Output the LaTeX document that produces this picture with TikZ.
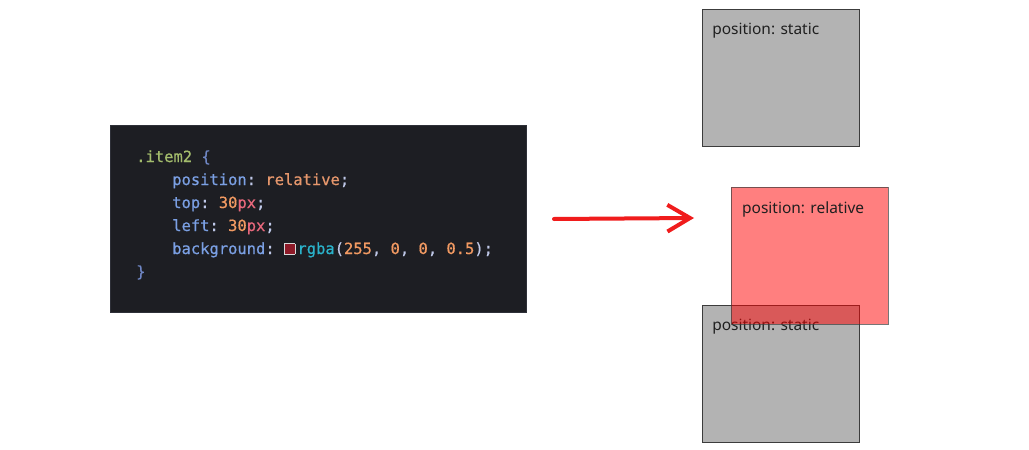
\documentclass[tikz,border=0pt]{standalone}
\usepackage{fontspec}
\setmainfont{Noto Sans}
\setmonofont[FakeBold=0.6]{DejaVu Sans Mono}
\usetikzlibrary{arrows.meta,positioning}

\definecolor{paneldark}{HTML}{1D1E23}
\definecolor{panelrim}{HTML}{2E3038}
\definecolor{codelight}{HTML}{BFC8E8}
\definecolor{selgreen}{HTML}{A3BC6C}
\definecolor{bracegray}{HTML}{6F86C4}
\definecolor{propblue}{HTML}{7BA0E4}
\definecolor{valorange}{HTML}{E6976C}
\definecolor{numorange}{HTML}{F29A62}
\definecolor{unitpink}{HTML}{E8687C}
\definecolor{fncyan}{HTML}{2AB3CB}
\definecolor{swatchred}{HTML}{8E1A28}
\definecolor{boxgray}{HTML}{B3B3B3}
\definecolor{boxrim}{HTML}{3C3C3C}
\definecolor{arrowred}{HTML}{F01C1C}

\tikzset{
  codepanel/.style={fill=paneldark, draw=panelrim, line width=0.6pt, minimum width=312pt,
    minimum height=140.25pt, inner sep=0pt, anchor=north west},
  codeline/.style={font=\ttfamily\fontsize{11.6}{13}\selectfont, text=codelight,
    anchor=base west, inner sep=0pt},
  staticbox/.style={fill=boxgray, draw=boxrim, line width=0.6pt, minimum width=117.75pt,
    minimum height=102.75pt, inner sep=0pt, anchor=north west},
  relbox/.style={staticbox, fill=red, fill opacity=0.5, draw opacity=0.7},
  boxlabel/.style={font=\fontsize{11.6}{13}\selectfont, text=black!88, anchor=north west, inner sep=0pt},
  redarrow/.style={draw=arrowred, line width=3pt, line cap=round, line join=round,
    -{Straight Barb[length=17pt,width=20pt]}}
}

\newcommand{\prop}[1]{\textcolor{propblue}{#1}}
\newcommand{\px}[1]{\textcolor{numorange}{#1}\textcolor{unitpink}{px}}
\newcommand{\swatch}{{\fboxsep=0pt\fboxrule=0.7pt\fcolorbox{white!85!black}{swatchred}{\rule{0pt}{7.2pt}\hspace{7.2pt}}}\hspace{1.5pt}}

\begin{document}
\begin{tikzpicture}[x=0.75pt,y=-0.75pt]
\useasboundingbox[fill=white] (0,0) rectangle (1029,450);

% code snippet
\node[codepanel] (panel) at (110,125) {};
\node[codeline] (sel) at (136,162) {\textcolor{selgreen}{.item2} \textcolor{bracegray}{\{}};
\node[codeline] (pos) at (172,185) {\prop{position}: \textcolor{valorange}{relative};};
\node[codeline] (top) at (172,208) {\prop{top}: \px{30};};
\node[codeline] (left) at (172,231) {\prop{left}: \px{30};};
\node[codeline] (bg) at (172,254) {\prop{background}: \swatch\textcolor{fncyan}{rgba}(\textcolor{numorange}{255}, \textcolor{numorange}{0}, \textcolor{numorange}{0}, \textcolor{numorange}{0.5});};
\node[codeline] (close) at (136,277) {\textcolor{bracegray}{\}}};

% hand drawn arrow
\coordinate (arrowtail) at (554,219);
\coordinate (arrowtip) at (694,218);
\draw[redarrow] (arrowtail) -- (arrowtip);

% boxes
\node[staticbox] (statictop) at (702,9) {};
\node[boxlabel] (statictoplabel) at ([shift={(7.5pt,-10.5pt)}]statictop.north west) {position: static};

\node[staticbox] (staticbottom) at (702,305) {};
\node[boxlabel] (staticbottomlabel) at ([shift={(7.5pt,-10.5pt)}]staticbottom.north west) {position: static};

\node[relbox] (relative) at (731,187) {};
\node[boxlabel] (relativelabel) at ([shift={(8.2pt,-10.5pt)}]relative.north west) {position: relative};
\end{tikzpicture}
\end{document}
